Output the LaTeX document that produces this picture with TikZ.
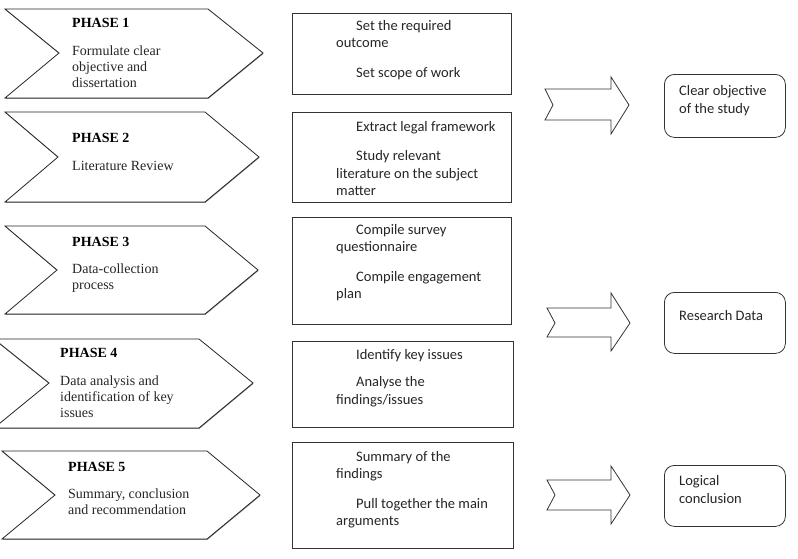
\documentclass[tikz,border=0pt]{standalone}
\usepackage{fontspec}
\setmainfont{Liberation Serif}
\newfontfamily\calfont{Carlito}
\usetikzlibrary{shadows}
\begin{document}
\begin{tikzpicture}[x=1pt,y=-1pt,
  chev/.style={draw=black!85,line width=0.8pt,line join=miter,fill=white,
    drop shadow={shadow xshift=0.3pt,shadow yshift=-0.9pt,opacity=0.7,fill=black!70}},
  ptitle/.style={anchor=base west,inner sep=0,font=\fontsize{14}{16}\selectfont\bfseries},
  pbody/.style={anchor=north west,inner sep=0,align=left,font=\fontsize{14}{16}\selectfont,text=black!85},
  btext/.style={anchor=north west,inner sep=0,align=left,font=\calfont\fontsize{14.5}{17.5}\selectfont,text=black!85},
  rtext/.style={anchor=north west,inner sep=0,align=left,font=\calfont\fontsize{14.5}{18}\selectfont,text=black!85},
  mbox/.style={draw=black!80,line width=0.8pt,fill=white,inner sep=0,anchor=north west,
    drop shadow={shadow xshift=0.9pt,shadow yshift=-0.9pt,opacity=0.6,fill=black!70}},
  rbox/.style={draw=black!80,line width=0.8pt,fill=white,inner sep=0,anchor=north west,rounded corners=10pt},
  barrow/.style={draw=black!80,line width=0.8pt,fill=white,line join=miter},
]
\useasboundingbox (0,0) rectangle (798,558);
\clip (0,0) rectangle (798,558);

% chevrons
\draw[chev] (5,9) -- (208,9) -- (263,53) -- (208,98) -- (5,98) -- (59,53) -- cycle;
\draw[chev] (5,112) -- (205,112) -- (259,157) -- (205,202) -- (5,202) -- (58,157) -- cycle;
\draw[chev] (5,226) -- (205,226) -- (258,270) -- (205,314) -- (5,314) -- (57,270) -- cycle;
\draw[chev] (-6,339) -- (199,339) -- (253,383) -- (199,428) -- (-6,428) -- (49,383) -- cycle;
\draw[chev] (2,451) -- (207,451) -- (260,495) -- (207,539) -- (2,539) -- (55,495) -- cycle;

\node[ptitle] (t1) at (72,27.6) {PHASE 1};
\node[pbody] (p1) at (72,44) {\strut Formulate clear\\objective and\\dissertation};
\node[ptitle] (t2) at (72,142.6) {PHASE 2};
\node[pbody] (p2) at (72,159) {\strut Literature Review};
\node[ptitle] (t3) at (72,246.6) {PHASE 3};
\node[pbody] (p3) at (72,262) {\strut Data-collection\\process};
\node[ptitle] (t4) at (60,357.6) {PHASE 4};
\node[pbody] (p4) at (60,374) {\strut Data analysis and\\identification of key\\issues};
\node[ptitle] (t5) at (68,471.6) {PHASE 5};
\node[pbody] (p5) at (68,487) {\strut Summary, conclusion\\and recommendation};

% middle boxes
\node[mbox,minimum width=219pt,minimum height=81pt] (b1) at (292,13) {};
\node[mbox,minimum width=219pt,minimum height=90pt] (b2) at (292,112) {};
\node[mbox,minimum width=219pt,minimum height=107pt] (b3) at (292,217) {};
\node[mbox,minimum width=221pt,minimum height=86pt] (b4) at (292,341) {};
\node[mbox,minimum width=221pt,minimum height=106pt] (b5) at (292,442) {};

\node[btext] (s1) at (336,18) {\hspace*{20pt}\strut Set the required\\outcome\\[12pt]\hspace*{20pt}Set scope of work};
\node[btext] (s2) at (336,119) {\hspace*{20pt}\strut Extract legal framework\\[12pt]\hspace*{20pt}Study relevant\\literature on the subject\\matter};
\node[btext] (s3) at (336,222) {\hspace*{20pt}\strut Compile survey\\questionnaire\\[12pt]\hspace*{20pt}Compile engagement\\plan};
\node[btext] (s4) at (336,347) {\hspace*{20pt}\strut Identify key issues\\[10pt]\hspace*{20pt}Analyse the\\findings/issues};
\node[btext] (s5) at (336,449) {\hspace*{20pt}\strut Summary of the\\findings\\[12pt]\hspace*{20pt}Pull together the main\\arguments};

% block arrows
\draw[barrow] (545,89) -- (611,89) -- (611,77) -- (629,105) -- (611,134) -- (611,120) -- (545,120) -- (553,105) -- cycle;
\draw[barrow] (547,308) -- (611,308) -- (611,293) -- (630,323) -- (611,351) -- (611,337) -- (547,337) -- (555,323) -- cycle;
\draw[barrow] (547,480) -- (611,480) -- (611,466) -- (630,495) -- (611,524) -- (611,510) -- (547,510) -- (555,495) -- cycle;

% right boxes
\node[rbox,minimum width=121pt,minimum height=63pt] (r1) at (664,74) {};
\node[rbox,minimum width=121pt,minimum height=61pt] (r2) at (664,292) {};
\node[rbox,minimum width=121pt,minimum height=61pt] (r3) at (664,465) {};

\node[rtext] (o1) at (679,82.7) {\strut Clear objective\\of the study};
\node[rtext] (o2) at (679,307.7) {\strut Research Data};
\node[rtext] (o3) at (679,472.7) {\strut Logical\\conclusion};
\end{tikzpicture}
\end{document}
